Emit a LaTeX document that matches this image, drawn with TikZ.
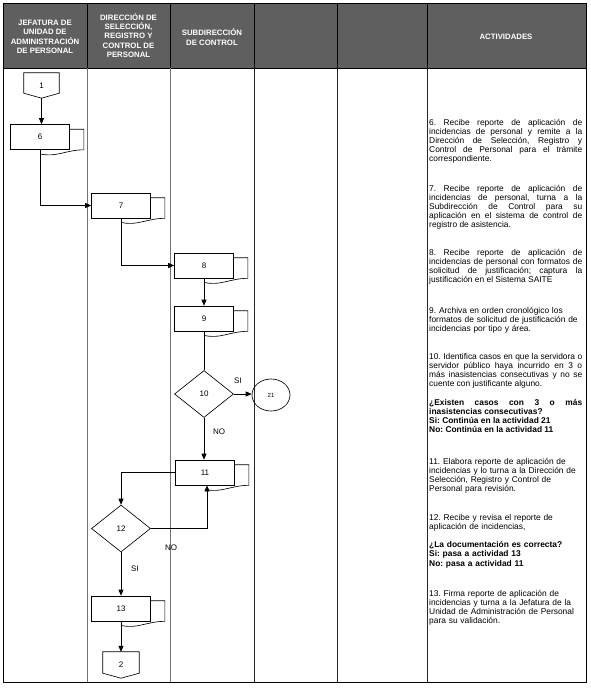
\documentclass[tikz,border=0pt]{standalone}
\usepackage{fontspec}
\setmainfont{Liberation Sans}
\usetikzlibrary{arrows.meta,calc,shapes.geometric}
\definecolor{hdrgray}{HTML}{5F5F5F}
\newcommand\backdoc[1]{\draw[flow] ($(#1.north east)+(0,5)$) -- ++(14,0) -- ($(#1.south east)+(14,0)$) .. controls ($(#1.south east)+(-4,0)$) and ($(#1.south)+(16,8)$) .. ($(#1.south)+(0,4)$);}
\tikzset{
  flow/.style={line width=0.65pt},
  arr/.style={-{Triangle[length=6pt,width=5pt]}},
  hdr/.style={font=\bfseries\fontsize{7.8}{9.3}\selectfont, text=white, align=center, inner sep=0pt},
  box/.style={draw, flow, fill=white, minimum width=59pt, minimum height=25pt, inner sep=0pt, font=\fontsize{8}{9}\selectfont},
  dia/.style={draw, flow, diamond, aspect=1.25, minimum width=59pt, minimum height=47pt, inner sep=0pt, font=\fontsize{8}{9}\selectfont},
  circ/.style={draw, flow, ellipse, minimum width=38pt, minimum height=32pt, inner sep=0pt, font=\fontsize{6}{7}\selectfont},
  opc/.style={inner sep=0pt, font=\fontsize{8}{9}\selectfont},
  lbl/.style={inner sep=0pt, font=\fontsize{8}{9}\selectfont},
  actj/.style={anchor=base west, inner sep=0pt, text width=153pt, align=justify, font=\fontsize{8.4}{9.2}\selectfont\frenchspacing},
  actl/.style={anchor=base west, inner sep=0pt, text width=158pt, align=left, font=\fontsize{8.4}{9.2}\selectfont\frenchspacing},
}
\begin{document}
\frenchspacing
\begin{tikzpicture}[x=1pt,y=-1pt]
\useasboundingbox (0,0) rectangle (590,688);
% header
\fill[hdrgray] (3,3) rectangle (586,68);
\draw[line width=0.6pt] (87,3) -- (87,68) (170,3) -- (170,68) (254,3) -- (254,68) (337,3) -- (337,68) (427,3) -- (427,68);
\draw[line width=0.6pt] (3,68) -- (586,68);
% body columns
\draw[black!55, line width=0.6pt] (87,68) -- (87,682) (170,68) -- (170,682);
\draw[black!85, line width=0.6pt] (254,68) -- (254,682) (337,68) -- (337,682) (427,68) -- (427,682);
\draw[line width=0.8pt] (3,3) rectangle (586,682);
% header texts
\node[hdr] (h1) at (45,37) {JEFATURA DE\\UNIDAD DE\\ADMINISTRACIÓN\\DE PERSONAL};
\node[hdr] (h2) at (128.5,35.5) {DIRECCIÓN DE\\SELECCIÓN,\\REGISTRO Y\\CONTROL DE\\PERSONAL};
\node[hdr] (h3) at (212,37) {SUBDIRECCIÓN\\DE CONTROL};
\node[hdr] (h4) at (506,36.5) {ACTIVIDADES};
% flow nodes
\node[opc, minimum width=35pt, minimum height=25pt] (c1) at (41.5,85.5) {1};
\draw[flow] (c1.north west) -- (c1.north east) -- ([yshift=5pt]c1.south east) -- (c1.south) -- ([yshift=5pt]c1.south west) -- cycle;
\node[box] (b6) at (40,137) {6};
\backdoc{b6}
\node[box] (b7) at (121,205.5) {7};
\backdoc{b7}
\node[box] (b8) at (204,265.5) {8};
\backdoc{b8}
\node[box] (b9) at (204,318.5) {9};
\backdoc{b9}
\node[dia] (d10) at (204,394) {10};
\node[circ] (c21) at (271,395) {21};
\node[box] (b11) at (205,472.5) {11};
\backdoc{b11}
\node[dia] (d12) at (121,528.5) {12};
\node[box] (b13) at (121,608.5) {13};
\backdoc{b13}
\node[opc, minimum width=36pt, minimum height=26pt] (c2) at (121,665) {2};
\draw[flow] (c2.north west) -- (c2.north east) -- ([yshift=5pt]c2.south east) -- (c2.south) -- ([yshift=5pt]c2.south west) -- cycle;
% connectors
\draw[flow,arr] (c1.south) -- (c1.south |- b6.north);
\draw[flow,arr] (b6.south) |- (b7.west);
\draw[flow,arr] (b7.south) |- (b8.west);
\draw[flow,arr] (b8.south) -- (b9.north);
\draw[flow] (b9.south) -- (d10.north);
\draw[flow,arr] (d10.east) -- (d10.east -| c21.west);
\draw[flow,arr] (d10.south) -- (d10.south |- b11.north);
\draw[flow,arr] (b11.west) -| (d12.north);
\draw[flow,arr] (d12.east) -| ([xshift=2pt]b11.south);
\draw[flow,arr] (d12.south) -- (b13.north);
\draw[flow,arr] (b13.south) -- (c2.north);
% labels
\node[lbl] (si10) at (238,381) {SI};
\node[lbl] (no10) at (219,432) {NO};
\node[lbl] (no12) at (171,548) {NO};
\node[lbl] (si12) at (135,569) {SI};
% activities
\node[actj] (p6) at (429,125) {6. Recibe reporte de aplicación de\linebreak incidencias de personal y remite a la\linebreak Dirección de Selección, Registro y\linebreak Control de Personal para el trámite\linebreak correspondiente.};
\node[actj] (p7) at (429,191) {7. Recibe reporte de aplicación de\linebreak incidencias de personal, turna a la\linebreak Subdirección de Control para su\linebreak aplicación en el sistema de control de\linebreak registro de asistencia.};
\node[actj] (p8) at (429,255) {8. Recibe reporte de aplicación de\linebreak incidencias de personal con formatos de\linebreak solicitud de justificación; captura la\linebreak justificación en el Sistema SAITE};
\node[actl] (p9) at (429,313) {9. Archiva en orden cronológico los\\formatos de solicitud de justificación de\\incidencias por tipo y área.};
\node[actj] (p10) at (429,359) {10. Identifica casos en que la servidora o\linebreak servidor público haya incurrido en 3 o\linebreak más inasistencias consecutivas y no se\linebreak cuente con justificante alguno.};
\node[actj, font=\bfseries\fontsize{8.4}{9.2}\selectfont\frenchspacing] (p10b) at (429,405) {¿Existen casos con 3 o más\linebreak inasistencias consecutivas?\\Si: Continúa en la actividad 21\\No: Continúa en la actividad 11};
\node[actl] (p11) at (429,464) {11. Elabora reporte de aplicación de\\incidencias y lo turna a la Dirección de\\Selección, Registro y Control de\\Personal para revisión.};
\node[actl] (p12) at (429,520) {12. Recibe y revisa el reporte de\\aplicación de incidencias,};
\node[actl, font=\bfseries\fontsize{8.4}{9.2}\selectfont\frenchspacing] (p12b) at (429,547.6) {¿La documentación es correcta?\\Si: pasa a actividad 13\\No: pasa a actividad 11};
\node[actl] (p13) at (429,596) {13. Firma reporte de aplicación de\\incidencias y turna a la Jefatura de la\\Unidad de Administración de Personal\\para su validación.};
\end{tikzpicture}
\end{document}
